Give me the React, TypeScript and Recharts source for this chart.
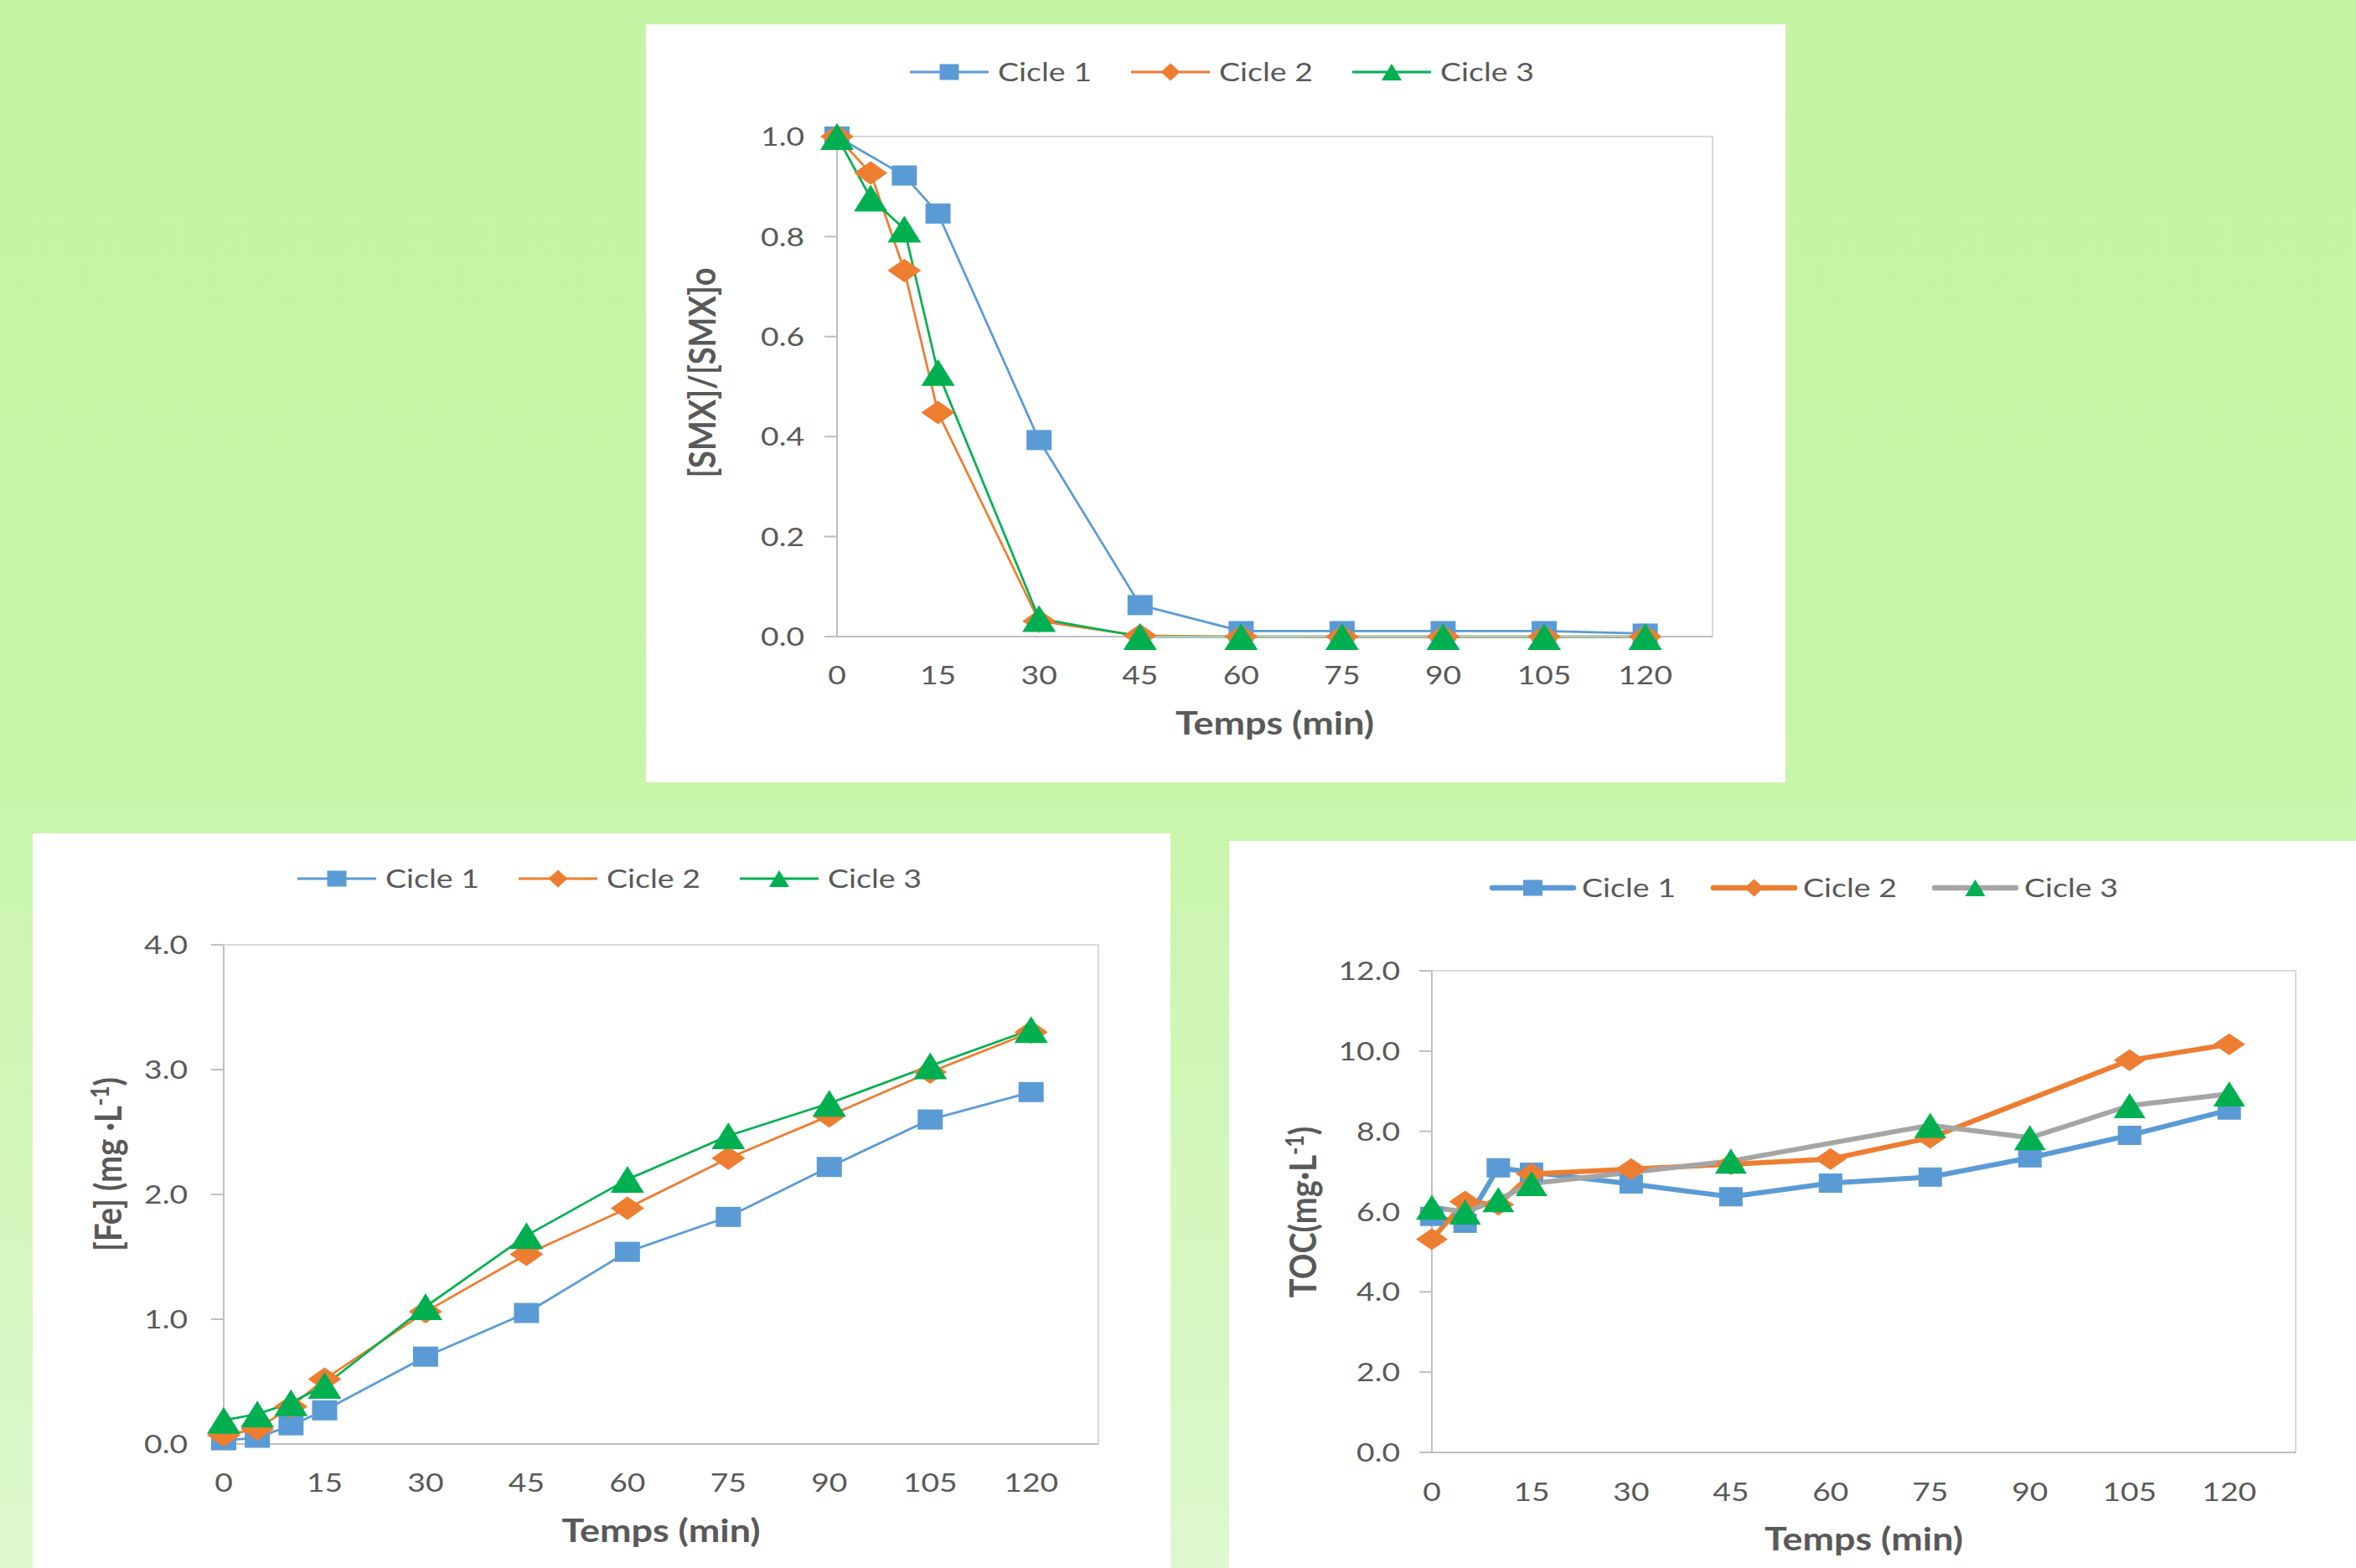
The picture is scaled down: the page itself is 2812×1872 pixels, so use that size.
import React from 'react';
import { LineChart, Line, XAxis, YAxis, Legend, ReferenceArea } from 'recharts';

// ---------- data ----------
const TIMES = [0, 5, 10, 15, 30, 45, 60, 75, 90, 105, 120];
const X_TICKS = [0, 15, 30, 45, 60, 75, 90, 105, 120];
const SERIES_NAMES = ['Cicle 1', 'Cicle 2', 'Cicle 3'];

const SMX_C1 = [1.0, null, 0.922, 0.846, 0.393, 0.063, 0.011, 0.011, 0.011, 0.011, 0.006];
const SMX_C2 = [1.0, 0.927, 0.732, 0.448, 0.031, 0.002, 0.0, 0.0, 0.0, 0.0, 0.0];
const SMX_C3 = [1.0, 0.877, 0.815, 0.528, 0.036, 0.0, 0.0, 0.0, 0.0, 0.0, 0.0];
const SMX_TICKS = [0, 0.2, 0.4, 0.6, 0.8, 1.0];

const FE_C1 = [0.03, 0.05, 0.15, 0.27, 0.7, 1.05, 1.54, 1.82, 2.22, 2.6, 2.82];
const FE_C2 = [0.07, 0.12, 0.3, 0.52, 1.06, 1.52, 1.89, 2.29, 2.63, 2.98, 3.3];
const FE_C3 = [0.19, 0.24, 0.33, 0.47, 1.1, 1.67, 2.12, 2.47, 2.73, 3.03, 3.32];
const FE_TICKS = [0, 1, 2, 3, 4];

const TOC_C1 = [5.88, 5.71, 7.09, 6.98, 6.69, 6.37, 6.71, 6.86, 7.34, 7.9, 8.53];
const TOC_C2 = [5.31, 6.25, 6.17, 6.94, 7.06, 7.18, 7.31, 7.84, null, 9.77, 10.17];
const TOC_C3 = [6.11, 5.99, 6.3, 6.7, null, 7.26, null, 8.15, 7.84, 8.64, 8.93];
const TOC_TICKS = [0, 2, 4, 6, 8, 10, 12];

// ---------- styles ----------
const BLUE = '#5B9BD5';
const ORANGE = '#ED7D31';
const GREEN = '#00B050';
const GRAY = '#A5A5A5';
const TXT = '#595959';
const AXIS = '#BFBFBF';
const BORDER = '#D9D9D9';
const FONT = 'Lato, "Open Sans", sans-serif';
const SX = 1.2;

type Shape = 'square' | 'diamond' | 'triangle';
const SHAPES: Shape[] = ['square', 'diamond', 'triangle'];

function buildRows(a: (number | null)[], b: (number | null)[], c: (number | null)[]) {
  return TIMES.map((t, i) => ({ t, c1: a[i], c2: b[i], c3: c[i] }));
}

function Marker({ shape, cx, cy, w, h, color }: { shape: Shape; cx: number; cy: number; w: number; h: number; color: string }) {
  if (shape === 'square') return <rect x={cx - w / 2} y={cy - h / 2} width={w} height={h} fill={color} />;
  if (shape === 'diamond')
    return <polygon points={`${cx},${cy - h / 2} ${cx + w / 2},${cy} ${cx},${cy + h / 2} ${cx - w / 2},${cy}`} fill={color} />;
  return <polygon points={`${cx},${cy - h / 2} ${cx + w / 2},${cy + h / 2} ${cx - w / 2},${cy + h / 2}`} fill={color} />;
}

type Cfg = {
  W: number; H: number;
  plot: { l: number; t: number; r: number; b: number };
  rows: any[];
  yMax: number; yTicks: number[];
  yTickMargin: number;
  xTickMargin: number;
  lineW: number;
  lineColors: string[];
  markerColors: string[];
  markerSizes: { w: number; h: number }[];
  legend: { top: number; left: number; lineLen: number; textDx: number; pitch: number; lineW: number; round: boolean; markerSizes: { w: number; h: number }[] };
  yTitle: { x: number; y: number; main: string; sup?: string; tail?: string };
};

const BIG_MARKERS = [{ w: 30, h: 24 }, { w: 40, h: 28 }, { w: 40, h: 32 }];
const TOC_MARKERS = [{ w: 28, h: 23 }, { w: 38, h: 26 }, { w: 38, h: 30 }];
const LEG_MARKERS = [{ w: 23, h: 19 }, { w: 23, h: 21 }, { w: 24, h: 20 }];

const XTick = (props: any) => {
  const { x, y, payload } = props;
  return (
    <g transform={`translate(${x},${y}) scale(${SX},1)`}>
      <text x={0} y={0} dy="0.72em" textAnchor="middle" fill={TXT} fontSize={31} fontFamily={FONT}>
        {payload.value}
      </text>
    </g>
  );
};

const YTick = (props: any) => {
  const { x, y, payload } = props;
  return (
    <g transform={`translate(${x},${y}) scale(${SX},1)`}>
      <text x={0} y={0} dy="0.36em" textAnchor="end" fill={TXT} fontSize={31} fontFamily={FONT}>
        {Number(payload.value).toFixed(1)}
      </text>
    </g>
  );
};

function LegendSvg({ cfg }: { cfg: Cfg }) {
  const L = cfg.legend;
  return (
    <svg width={800} height={40} style={{ display: 'block', overflow: 'visible' }}>
      {SERIES_NAMES.map((name, i) => {
        const x0 = i * L.pitch;
        return (
          <g key={name}>
            <line x1={x0} x2={x0 + L.lineLen} y1={20} y2={20} stroke={cfg.lineColors[i]} strokeWidth={L.lineW} strokeLinecap={L.round ? 'round' : 'butt'} />
            <Marker shape={SHAPES[i]} cx={x0 + L.lineLen / 2} cy={20} w={L.markerSizes[i].w} h={L.markerSizes[i].h} color={cfg.markerColors[i]} />
            <g transform={`translate(${x0 + L.textDx},20) scale(1.25,1)`}>
              <text x={0} y={0} dy="0.36em" fill={TXT} fontSize={30} fontFamily={FONT}>{name}</text>
            </g>
          </g>
        );
      })}
    </svg>
  );
}

function PanelChart({ cfg }: { cfg: Cfg }) {
  const { W, H, plot } = cfg;
  const legendH = 40;
  const margin = { top: plot.t - legendH, right: W - plot.r, bottom: 0, left: 0 };
  const keys = ['c1', 'c2', 'c3'];

  const xTitle = (p: any) => {
    const vb = p.viewBox || {};
    return (
      <g transform={`translate(${vb.x + vb.width / 2},${vb.y + 90}) scale(1.18,1)`}>
        <text x={0} y={0} dy="0.72em" textAnchor="middle" fill={TXT} fontSize={38} fontWeight="bold" fontFamily={FONT}>
          Temps (min)
        </text>
      </g>
    );
  };
  const yTitle = () => {
    const T = cfg.yTitle;
    return (
      <g transform={`translate(${T.x},${T.y}) scale(1.18,1) rotate(-90)`}>
        <text x={0} y={0} dy="0.36em" textAnchor="middle" fill={TXT} fontSize={38} fontWeight="bold" fontFamily={FONT}>
          {T.main}
          {T.sup ? <tspan dy={-13} fontSize={25}>{T.sup}</tspan> : null}
          {T.tail ? <tspan dy={13} fontSize={38}>{T.tail}</tspan> : null}
        </text>
      </g>
    );
  };

  return (
    <LineChart width={W} height={H} data={cfg.rows} margin={margin}>
      <Legend
        verticalAlign="top"
        align="left"
        wrapperStyle={{ top: cfg.legend.top, left: cfg.legend.left, width: 800, height: legendH }}
        content={() => <LegendSvg cfg={cfg} />}
      />
      <ReferenceArea x1={0} x2={130} y1={0} y2={cfg.yMax} fill="none" stroke={BORDER} strokeWidth={2} ifOverflow="visible" />
      <XAxis
        dataKey="t"
        type="number"
        domain={[0, 130]}
        ticks={X_TICKS}
        interval={0}
        height={H - plot.b}
        tickLine={false}
        tickSize={0}
        tickMargin={cfg.xTickMargin}
        axisLine={{ stroke: AXIS, strokeWidth: 2 }}
        tick={(p: any) => <XTick {...p} />}
        label={xTitle}
      />
      <YAxis
        type="number"
        domain={[0, cfg.yMax]}
        ticks={cfg.yTicks}
        interval={0}
        width={plot.l}
        tickSize={15}
        tickLine={{ stroke: AXIS, strokeWidth: 2 }}
        tickMargin={cfg.yTickMargin}
        axisLine={{ stroke: AXIS, strokeWidth: 2 }}
        tick={(p: any) => <YTick {...p} />}
        label={yTitle}
      />
      {keys.map((k, i) => (
        <Line
          key={k}
          dataKey={k}
          name={SERIES_NAMES[i]}
          type="linear"
          stroke={cfg.lineColors[i]}
          strokeWidth={cfg.lineW}
          strokeLinejoin="round"
          connectNulls
          isAnimationActive={false}
          activeDot={false}
          dot={(p: any) => {
            const v = p.payload ? p.payload[k] : null;
            if (p.cx == null || p.cy == null || v == null) return <g key={`d-${k}-${p.index}`} />;
            return (
              <g key={`d-${k}-${p.index}`}>
                <Marker shape={SHAPES[i]} cx={p.cx} cy={p.cy} w={cfg.markerSizes[i].w} h={cfg.markerSizes[i].h} color={cfg.markerColors[i]} />
              </g>
            );
          }}
        />
      ))}
    </LineChart>
  );
}

const SMX_CFG: Cfg = {
  W: 1360, H: 905,
  plot: { l: 228, t: 134, r: 1273, b: 731 },
  rows: buildRows(SMX_C1, SMX_C2, SMX_C3),
  yMax: 1, yTicks: SMX_TICKS,
  yTickMargin: 24, xTickMargin: 35,
  lineW: 2.75,
  lineColors: [BLUE, ORANGE, GREEN],
  markerColors: [BLUE, ORANGE, GREEN],
  markerSizes: BIG_MARKERS,
  legend: { top: 37, left: 315, lineLen: 94, textDx: 105, pitch: 264, lineW: 3, round: false, markerSizes: LEG_MARKERS },
  yTitle: { x: 67, y: 416, main: '[SMX]/[SMX]o' },
};

const FE_CFG: Cfg = {
  W: 1358, H: 877,
  plot: { l: 228, t: 133, r: 1272, b: 729 },
  rows: buildRows(FE_C1, FE_C2, FE_C3),
  yMax: 4, yTicks: FE_TICKS,
  yTickMargin: 28, xTickMargin: 35,
  lineW: 2.75,
  lineColors: [BLUE, ORANGE, GREEN],
  markerColors: [BLUE, ORANGE, GREEN],
  markerSizes: BIG_MARKERS,
  legend: { top: 34, left: 316, lineLen: 94, textDx: 105, pitch: 264, lineW: 3, round: false, markerSizes: LEG_MARKERS },
  yTitle: { x: 90, y: 395, main: '[Fe] (mg ·L', sup: '-1', tail: ')' },
};

const TOC_CFG: Cfg = {
  W: 1345, H: 868,
  plot: { l: 242, t: 155, r: 1273, b: 730 },
  rows: buildRows(TOC_C1, TOC_C2, TOC_C3),
  yMax: 12, yTicks: TOC_TICKS,
  yTickMargin: 23, xTickMargin: 36,
  lineW: 6,
  lineColors: [BLUE, ORANGE, GRAY],
  markerColors: [BLUE, ORANGE, GREEN],
  markerSizes: TOC_MARKERS,
  legend: { top: 36, left: 314, lineLen: 97, textDx: 107, pitch: 264, lineW: 6.5, round: true, markerSizes: LEG_MARKERS },
  yTitle: { x: 88, y: 443, main: 'TOC(mg·L', sup: '-1', tail: ')' },
};

function Panel({ x, y, w, h, children }: { x: number; y: number; w: number; h: number; children: React.ReactNode }) {
  return (
    <div style={{ position: 'absolute', left: x, top: y, width: w, height: h, background: '#FFFFFF', overflow: 'hidden' }}>
      {children}
    </div>
  );
}

export default function App() {
  return (
    <div
      style={{
        position: 'absolute',
        left: 0,
        top: 0,
        width: 2812,
        height: 1872,
        overflow: 'hidden',
        background: 'linear-gradient(to bottom, #C4F4A3 0%, #C6F5A7 45%, #DDF8CE 100%)',
      }}
    >
      <Panel x={771} y={29} w={1360} h={905}>
        <PanelChart cfg={SMX_CFG} />
      </Panel>
      <Panel x={39} y={995} w={1358} h={877}>
        <PanelChart cfg={FE_CFG} />
      </Panel>
      <Panel x={1467} y={1004} w={1345} h={868}>
        <PanelChart cfg={TOC_CFG} />
      </Panel>
    </div>
  );
}
